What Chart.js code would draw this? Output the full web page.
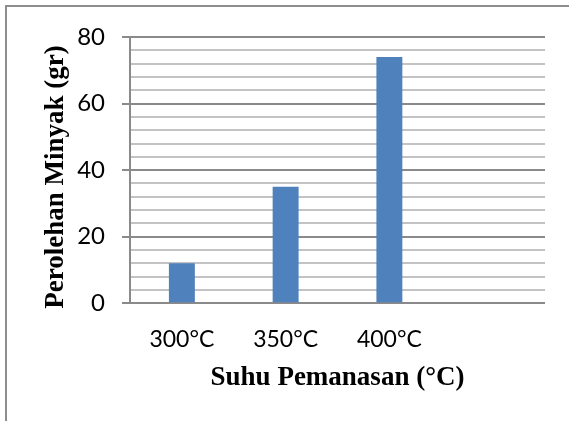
<!DOCTYPE html>
<html lang="id">
<head>
<meta charset="UTF-8">
<title>Perolehan Minyak</title>
<style>
  body { margin: 0; background: #fff; }
  #frame { position: absolute; left: 5px; top: 5px; width: 700px; height: 600px; border: 2px solid #8e8e8e; }
  #wrap { position: absolute; left: 0; top: 0; width: 569px; height: 421px; }
</style>
</head>
<body>
<div id="frame"></div>
<div id="wrap"><canvas id="myChart"></canvas></div>

<script src="https://cdn.jsdelivr.net/npm/chart.js"></script>
<script>
  // data
  const categories = ['300°C', '350°C', '400°C', ''];
  const oilYield = [12, 35, 74, null];
  const yTickLabels = [0, 20, 40, 60, 80];

  const isMajor = v => yTickLabels.includes(v);

  new Chart(document.getElementById('myChart'), {
    type: 'bar',
    data: {
      labels: categories,
      datasets: [{
        label: 'Perolehan Minyak',
        data: oilYield,
        backgroundColor: '#4f81bd',
        barPercentage: 0.25,
        categoryPercentage: 1
      }]
    },
    options: {
      responsive: true,
      maintainAspectRatio: false,
      animation: false,
      layout: { padding: { left: 0, top: 37, right: 24, bottom: 0 } },
      plugins: { legend: { display: false }, tooltip: { enabled: false } },
      scales: {
        x: {
          grid: { display: false, drawTicks: false },
          border: { display: false },
          ticks: { color: '#000', padding: 22, font: { family: 'Lato', size: 23 } },
          title: {
            display: true,
            text: 'Suhu Pemanasan (°C)',
            color: '#000',
            padding: { top: 0, bottom: 27 },
            font: { family: 'Liberation Serif', size: 27, weight: 'bold' }
          },
          afterFit: s => { s.height = 117.7; }
        },
        y: {
          min: 0,
          max: 80,
          ticks: {
            stepSize: 4,
            autoSkip: false,
            color: '#000',
            padding: 17,
            font: { family: 'Lato', size: 24 },
            callback: v => isMajor(v) ? v : ''
          },
          grid: {
            color: c => isMajor(c.tick.value) ? '#8a8a8a' : '#c3c3c3',
            lineWidth: 2,
            tickLength: 8,
            tickColor: c => isMajor(c.tick.value) ? '#8a8a8a' : 'rgba(0,0,0,0)'
          },
          border: { color: '#8a8a8a', width: 2 },
          title: {
            display: true,
            text: 'Perolehan Minyak (gr)  ',
            color: '#000',
            padding: { top: 40, bottom: 0 },
            font: { family: 'Liberation Serif', size: 27, weight: 'bold' }
          },
          afterFit: s => { s.width = 130; }
        }
      }
    }
  });
</script>
</body>
</html>
